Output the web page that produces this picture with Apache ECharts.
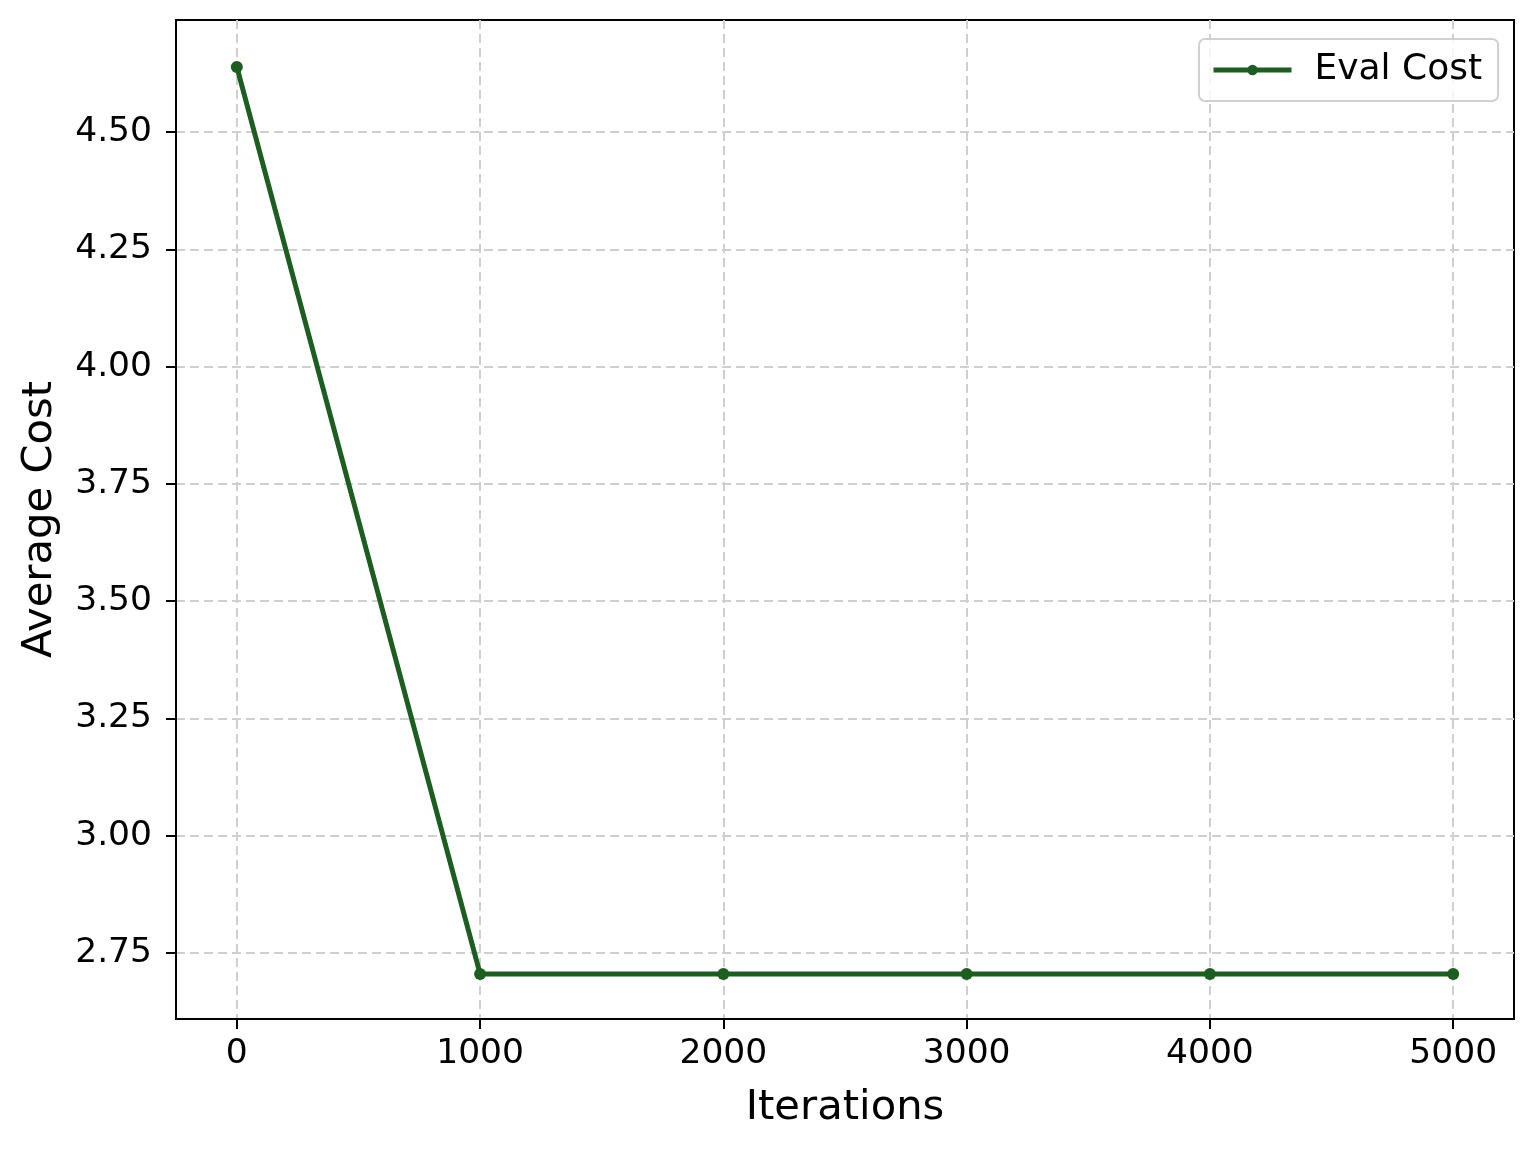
<!DOCTYPE html>
<html>
<head>
<meta charset="utf-8">
<script src="https://cdn.jsdelivr.net/npm/echarts@6/dist/echarts.min.js"></script>
<style>html,body{margin:0;padding:0;background:#fff;}#chart{width:1537px;height:1150px;}</style>
</head>
<body>
<div id="chart"></div>
<script>
const iterations = [0, 1000, 2000, 3000, 4000, 5000];
const evalCost = [4.639, 2.705, 2.705, 2.705, 2.705, 2.705];
const xTicks = [0, 1000, 2000, 3000, 4000, 5000];
const yTicks = [2.75, 3.00, 3.25, 3.50, 3.75, 4.00, 4.25, 4.50];
const seriesName = 'Eval Cost';
const xName = 'Iterations';
const yName = 'Average Cost';

const FONT = 'DejaVu Sans';
const chart = echarts.init(document.getElementById('chart'), null, {renderer: 'canvas'});
const split = {show: true, lineStyle: {color: '#cfcfcf', width: 2, type: [9, 5]}};
chart.setOption({
  animation: false,
  backgroundColor: '#fff',
  grid: {left: 176, right: 23, top: 20, bottom: 131, show: true, borderColor: '#000', borderWidth: 2, backgroundColor: 'transparent'},
  legend: {
    left: 1199, top: 39,
    padding: [13, 16, 13, 12],
    backgroundColor: 'rgba(255,255,255,0.8)',
    borderColor: '#d0d0d0', borderWidth: 2, borderRadius: 6,
    itemWidth: 78, itemHeight: 13,
    lineStyle: {width: 5},
    textStyle: {fontFamily: FONT, fontSize: 36, color: '#000', padding: [0, 0, 0, 18]},
    data: [seriesName]
  },
  xAxis: {
    type: 'value', min: -250, max: 5250,
    name: xName, nameLocation: 'middle', nameGap: 68,
    nameTextStyle: {fontFamily: FONT, fontSize: 41.7, color: '#000'},
    axisLine: {show: true, onZero: false, lineStyle: {color: '#000', width: 2}},
    axisTick: {show: true, length: 10, lineStyle: {color: '#000', width: 2}, customValues: xTicks},
    axisLabel: {fontFamily: FONT, fontSize: 34.5, color: '#000', margin: 18, customValues: xTicks, formatter: v => String(v)},
    splitLine: split
  },
  yAxis: {
    type: 'value', min: 2.609, max: 4.739,
    name: yName, nameLocation: 'middle', nameGap: 115,
    nameTextStyle: {fontFamily: FONT, fontSize: 41.7, color: '#000'},
    axisLine: {show: true, onZero: false, lineStyle: {color: '#000', width: 2}},
    axisTick: {show: true, length: 10, lineStyle: {color: '#000', width: 2}, customValues: yTicks},
    axisLabel: {fontFamily: FONT, fontSize: 34.5, color: '#000', margin: 24, customValues: yTicks, formatter: v => v.toFixed(2)},
    splitLine: split
  },
  series: [{
    name: seriesName, type: 'line',
    data: iterations.map((x, i) => [x, evalCost[i]]),
    symbol: 'circle', symbolSize: 12,
    lineStyle: {color: '#1b5e20', width: 5},
    itemStyle: {color: '#1b5e20'}
  }]
});
</script>
</body>
</html>
